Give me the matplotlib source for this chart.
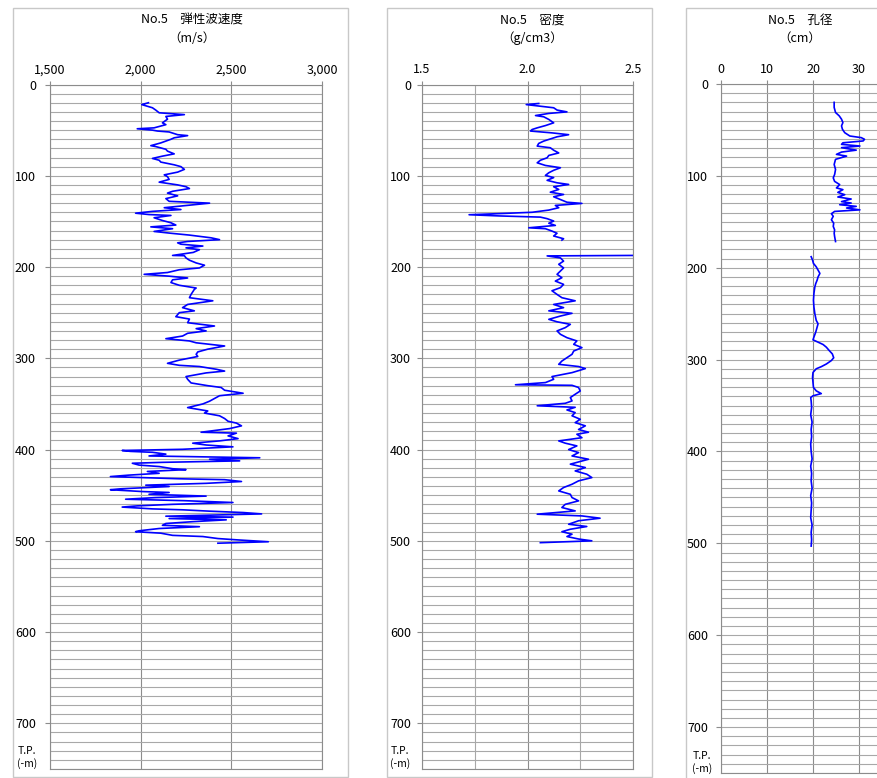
import numpy as np
import matplotlib
matplotlib.use("Agg")
import matplotlib.pyplot as plt
from matplotlib.patches import Rectangle
from matplotlib.ticker import FuncFormatter

plt.rcParams['font.family'] = ['Noto Sans CJK JP', 'DejaVu Sans']

# ---------------- data ----------------
vel_depth = [20, 22, 25.5, 28, 31, 33, 35, 38, 42, 44, 47.5, 48.5, 50, 51, 52, 55, 56, 58.4, 60, 62, 64, 67, 68, 71, 73, 76,
             78.5, 81, 83, 85, 88, 90, 93, 96, 99, 101, 104, 107, 110, 112, 114, 117, 119, 122, 125, 128, 130, 133, 135,
             137, 139, 141, 142.5, 143.5, 146, 149, 151.5, 154, 156, 158, 161, 163, 165, 168, 170, 172, 173.5, 175, 177,
             179, 181, 184, 187.3, 187.6, 190, 192.5, 195.5, 198, 201, 203, 206, 208, 210, 212, 214, 217, 220, 223,
             224.5, 230, 233.6, 237, 241, 244.5, 248, 250, 254.4, 257, 261, 264.6, 267.5, 270, 272.6, 275.6, 278.5, 281,
             283, 286.5, 290, 293, 295.6, 298, 302, 305.5, 307.7, 309, 312, 314, 316, 320, 323, 327, 330, 332, 335,
             338.3, 341, 344, 347, 350, 354, 357.7, 360, 363, 366, 369, 371, 374, 377, 381, 382, 385, 388, 390.5, 393,
             395, 397, 399.7, 401, 402, 403, 405, 407, 409, 410.6, 412.4, 414, 415, 417, 418.6, 421, 422, 424, 426, 428,
             429.6, 432, 433, 435, 437, 439, 440.5, 443, 444, 446, 447, 449, 451, 452.6, 454.4, 456, 458, 460, 461.7,
             463, 465, 466, 467.5, 469, 470.5, 473, 474, 475.6, 477, 479, 481, 483, 484.5, 486.5, 489, 490, 491.6, 494,
             495.3, 497.5, 499, 501, 502.6]
vel_value = [2043, 2006, 2065, 2083, 2102, 2241, 2139, 2148, 2120, 2139, 2074, 1981, 2065, 2093, 2157, 2204, 2259, 2185,
             2167, 2139, 2111, 2056, 2083, 2139, 2148, 2185, 2120, 2065, 2102, 2111, 2185, 2222, 2241, 2204, 2130, 2148,
             2157, 2102, 2204, 2250, 2269, 2176, 2148, 2204, 2139, 2157, 2380, 2231, 2130, 2222, 2065, 1972, 2046, 2167,
             2074, 2120, 2167, 2194, 2056, 2176, 2074, 2167, 2269, 2389, 2435, 2259, 2204, 2222, 2343, 2250, 2324,
             2290, 2176, 2241, 2250, 2269, 2306, 2352, 2324, 2213, 2148, 2019, 2157, 2259, 2176, 2167, 2213, 2306,
             2296, 2278, 2269, 2398, 2259, 2231, 2296, 2213, 2194, 2269, 2259, 2407, 2306, 2361, 2259, 2231, 2139, 2269,
             2306, 2463, 2370, 2315, 2306, 2315, 2213, 2148, 2213, 2324, 2417, 2463, 2361, 2250, 2259, 2278, 2370, 2444,
             2463, 2565, 2435, 2407, 2380, 2343, 2259, 2370, 2352, 2435, 2463, 2482, 2528, 2556, 2491, 2333, 2528, 2482,
             2537, 2435, 2287, 2361, 2509, 2231, 1898, 1944, 2065, 2139, 2046, 2657, 2380, 2546, 2120, 1954, 1991, 2102,
             2176, 2250, 2037, 2102, 1935, 1833, 2213, 2463, 2556, 2361, 2028, 2157, 1889, 1833, 2009, 2157, 2046, 2361,
             2083, 1917, 2241, 2509, 2176, 1981, 1898, 2065, 2231, 2380, 2565, 2667, 2139, 2509, 2157, 2472, 2287, 2139,
             2120, 2324, 2102, 1991, 1972, 2111, 2176, 2343, 2426, 2537, 2704, 2426]

den_depth = [20.8, 22, 23, 25.5, 28, 30, 31.7, 34, 35.4, 38.3, 42, 45, 47.5, 49.3, 51, 53, 55, 57.3, 60.2, 62, 64.6, 67.5,
             69.3, 72, 75, 77.7, 80.3, 83, 85.8, 88.7, 91.2, 94, 96.7, 99.6, 102, 105, 107.7, 109.5, 112, 115, 118,
             120.5, 123, 126, 129, 130.3, 132.5, 135, 137.6, 140, 141.2, 142.7, 144, 145.3, 147, 149.6, 152, 154.4, 157,
             158, 160.6, 163, 166, 169, 170.5, 180, 187.3, 187.8, 190, 193.5, 197, 201, 204.4, 208, 211.7, 215.4, 219,
             222.6, 226, 230, 233.6, 237, 241, 244.5, 248, 250.7, 253.7, 257.3, 260, 262.8, 266.4, 270, 273.7, 277.4,
             281, 284.7, 288.3, 292, 295.6, 299.3, 303, 306.6, 309, 311.3, 315.7, 320, 323, 326.6, 329, 329.6, 332,
             335.8, 339.4, 343, 346.7, 349.3, 352, 353.7, 356.6, 359.5, 363, 366.8, 370.5, 374, 378, 381, 383.2, 387,
             390.5, 393, 396, 400, 403.3, 407, 410.6, 413.5, 416, 419.7, 423.4, 427, 430.7, 434.3, 438, 441.6, 445.3,
             449, 452.6, 456.2, 460, 463.5, 467.2, 470.8, 472.7, 475.2, 478, 481.8, 484.3, 487.3, 490, 492.7, 495.3,
             498, 500, 502]
den_value = [2.053, 1.994, 2.030, 2.124, 2.140, 2.187, 2.101, 2.038, 2.077, 2.101, 2.124, 2.085, 2.046, 2.022, 2.014,
             2.116, 2.195, 2.140, 2.101, 2.077, 2.053, 2.046, 2.108, 2.124, 2.148, 2.101, 2.093, 2.061, 2.046, 2.085,
             2.156, 2.124, 2.101, 2.085, 2.124, 2.093, 2.140, 2.195, 2.124, 2.148, 2.108, 2.171, 2.124, 2.156, 2.187,
             2.258, 2.132, 2.148, 2.101, 2.022, 1.896, 1.723, 1.865, 2.061, 2.093, 2.124, 2.101, 2.132, 2.006, 2.085,
             2.116, 2.140, 2.124, 2.171, 2.163, np.nan, 2.500, 2.093, 2.156, 2.171, 2.148, 2.171, 2.156, 2.140, 2.163,
             2.132, 2.171, 2.156, 2.116, 2.140, 2.163, 2.226, 2.124, 2.171, 2.101, 2.211, 2.156, 2.101, 2.140, 2.203,
             2.179, 2.140, 2.156, 2.187, 2.234, 2.219, 2.258, 2.219, 2.211, 2.187, 2.163, 2.148, 2.242, 2.274, 2.211,
             2.116, 2.124, 2.085, 1.943, 2.211, 2.242, 2.250, 2.226, 2.203, 2.211, 2.179, 2.046, 2.226, 2.187, 2.226,
             2.211, 2.250, 2.226, 2.274, 2.242, 2.289, 2.234, 2.258, 2.148, 2.179, 2.234, 2.195, 2.242, 2.211, 2.289,
             2.242, 2.203, 2.274, 2.226, 2.281, 2.305, 2.242, 2.211, 2.171, 2.148, 2.203, 2.211, 2.242, 2.179, 2.163,
             2.226, 2.046, 2.258, 2.344, 2.242, 2.195, 2.281, 2.203, 2.163, 2.211, 2.187, 2.242, 2.305, 2.061]

dia_depth = [20, 25.5, 31, 34.7, 38.3, 42, 45.6, 49.3, 53, 56.6, 58.4, 60.2, 62, 64, 65.7, 67.5, 69.3, 72, 74.1, 76.6,
             78.5, 82, 87.6, 93, 98.5, 102.2, 106, 109.5, 113.1, 115, 118, 120.5, 123, 125.2, 128, 129.6, 131.4, 133.2,
             135, 137, 138.7, 141.2, 144, 147.8, 151.5, 155, 158.8, 162.4, 166, 171.5, 180, 188, 191.6, 195.3, 199,
             202.6, 206.2, 210, 213.5, 217.2, 220.8, 228, 235.4, 242.7, 250, 257.3, 261, 264.6, 270, 275.5, 278.5, 281,
             283.6, 286.5, 290, 293.8, 298, 301, 304.8, 307.7, 310, 314, 319.4, 325, 330.3, 334, 337, 339.4, 341.3, 345,
             352, 360, 368, 376, 384, 392, 400, 408, 416, 424, 432, 440, 448, 456, 464, 472, 480, 488, 496, 503]
dia_value = [24.6, 24.6, 24.9, 25.7, 26.2, 26.5, 26.2, 26.4, 26.9, 28.0, 30.5, 31.2, 30.9, 26.5, 26.2, 30.2, 26.2, 29.4,
             26.2, 25.1, 27.3, 24.9, 24.6, 24.9, 24.7, 24.4, 24.7, 25.8, 25.1, 26.5, 25.4, 26.9, 25.4, 28.3, 26.2, 28.3,
             25.8, 29.4, 27.3, 30.2, 24.7, 24.0, 24.4, 24.0, 24.5, 24.4, 24.7, 24.6, 24.7, 24.9, np.nan, 19.6, 19.9,
             20.1, 20.7, 21.1, 21.5, 21.1, 20.9, 20.6, 20.4, 20.2, 20.1, 20.2, 20.4, 20.7, 21.1, 20.9, 20.6, 20.2, 20.0,
             21.1, 22.2, 22.9, 23.5, 24.2, 24.5, 24.0, 22.9, 21.8, 20.7, 20.0, 19.9, 20.0, 20.1, 20.7, 21.8, 20.0, 19.5,
             19.6, 19.7, 19.5, 19.8, 19.6, 19.7, 19.5, 19.6, 19.8, 19.5, 19.7, 19.6, 19.8, 19.5, 19.7, 19.6, 19.5, 19.8,
             19.6, 19.7, 19.6]

titles = ["No.5\u3000弾性波速度", "No.5\u3000密度", "No.5\u3000孔径"]
units = ["（m/s）", "（g/cm3）", "（cm）"]
vel_ticks = [1500, 2000, 2500, 3000]
den_ticks = [1.5, 2.0, 2.5]
dia_ticks = [0, 10, 20, 30]
depth_ticks = [0, 100, 200, 300, 400, 500, 600, 700]

# ---------------- layout ----------------
W, H = 878, 778
fig = plt.figure(figsize=(W / 100, H / 100), dpi=100)


def add_ax(l, r, t, b):
    return fig.add_axes([l / W, 1 - b / H, (r - l) / W, (b - t) / H])


def box(l, r, t, b):
    fig.add_artist(Rectangle((l / W, 1 - b / H), (r - l) / W, (b - t) / H, transform=fig.transFigure,
                             fill=False, ec='#c8c8c8', lw=1.0))


box(13, 348, 8, 777)
box(387, 652, 8, 777)
box(686, 905, 8, 795)

ax1 = add_ax(50, 322, 84.5, 769)
ax2 = add_ax(422, 633, 84.5, 769)
ax3 = add_ax(721, 882, 84, 773)

GRID = '#a8a8a8'
GRID_MAJ = '#8c8c8c'


def style(ax, xlim, xticks, fmt, ypad, title, unit, cx, tp_off, tp_depth, xminor=None):
    ax.set_ylim(750, 0)
    ax.set_xlim(*xlim)
    ax.set_yticks(depth_ticks)
    ax.set_yticks(np.arange(0, 751, 10), minor=True)
    ax.set_xticks(xticks)
    if xminor is not None:
        ax.set_xticks(xminor, minor=True)
    ax.xaxis.set_major_formatter(FuncFormatter(fmt))
    ax.xaxis.tick_top()
    ax.tick_params(axis='x', which='major', direction='out', length=3, width=0.8, color=GRID_MAJ,
                   labelsize=9, pad=3)
    ax.tick_params(axis='y', which='major', direction='out', length=3.6, width=0.8, color=GRID_MAJ,
                   labelsize=9, pad=ypad)
    ax.tick_params(which='minor', length=0)
    ax.grid(True, axis='y', which='both', color=GRID, lw=0.8)
    ax.grid(True, axis='x', which='major', color=GRID_MAJ, lw=0.8)
    if xminor is not None:
        ax.grid(True, axis='x', which='minor', color=GRID, lw=0.8)
    for s in ax.spines.values():
        s.set_color(GRID_MAJ)
        s.set_linewidth(0.8)
    ax.set_axisbelow(True)
    ax.annotate("T.P.\n(-m)", xy=(0, tp_depth), xycoords=('axes fraction', 'data'), xytext=(tp_off, 0),
                textcoords='offset pixels', ha='center', va='center', fontsize=7.5, linespacing=1.25,
                annotation_clip=False)
    fig.text(cx / W, 1 - 20 / H, title, ha='center', va='center', fontsize=9)
    fig.text(cx / W, 1 - 38 / H, unit, ha='center', va='center', fontsize=9)


style(ax1, (1500, 3000), vel_ticks, lambda v, p: f"{v:,.0f}", 6.5, titles[0], units[0], 192, -23, 737)
style(ax2, (1.5, 2.5), den_ticks, lambda v, p: f"{v:.1f}", 4.3, titles[1], units[1], 532, -22, 737,
      xminor=[1.75, 2.0, 2.25])
style(ax3, (0, 35), dia_ticks, lambda v, p: f"{v:.0f}", 5.8, titles[2], units[2], 800, -19, 739)

ax1.plot(vel_value, vel_depth, color='#0000ff', lw=1.2)
ax2.plot(den_value, den_depth, color='#0000ff', lw=1.2)
ax3.plot(dia_value, dia_depth, color='#0000ff', lw=1.2)

fig.savefig("out.png", dpi=100)
